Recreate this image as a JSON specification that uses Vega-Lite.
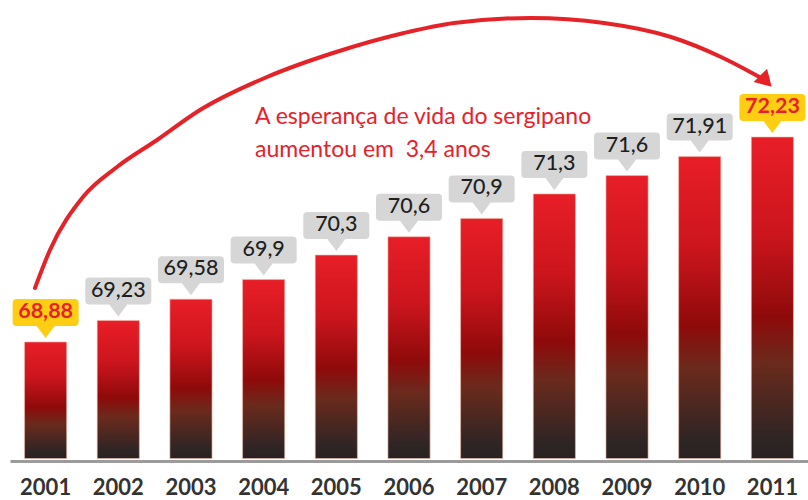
{
  "$schema": "https://vega.github.io/schema/vega-lite/v6.json",
  "width": 798,
  "height": 461,
  "autosize": "none",
  "padding": {"left": 10, "top": 0, "right": 0, "bottom": 39},
  "background": "white",
  "config": {
    "view": {"stroke": null},
    "font": "Lato"
  },
  "datasets": {
    "bars": [
      {"year": "2001", "value": 68.88, "label": "68,88"},
      {"year": "2002", "value": 69.23, "label": "69,23"},
      {"year": "2003", "value": 69.58, "label": "69,58"},
      {"year": "2004", "value": 69.9, "label": "69,9"},
      {"year": "2005", "value": 70.3, "label": "70,3"},
      {"year": "2006", "value": 70.6, "label": "70,6"},
      {"year": "2007", "value": 70.9, "label": "70,9"},
      {"year": "2008", "value": 71.3, "label": "71,3"},
      {"year": "2009", "value": 71.6, "label": "71,6"},
      {"year": "2010", "value": 71.91, "label": "71,91"},
      {"year": "2011", "value": 72.23, "label": "72,23"}
    ],
    "arc": [
      {"t": 2000.854, "v": 69.763},
      {"t": 2001.06, "v": 70.384},
      {"t": 2001.514, "v": 71.25},
      {"t": 2001.982, "v": 71.74},
      {"t": 2002.533, "v": 72.181},
      {"t": 2003.124, "v": 72.671},
      {"t": 2004.046, "v": 73.211},
      {"t": 2004.954, "v": 73.603},
      {"t": 2005.931, "v": 73.93},
      {"t": 2006.619, "v": 74.093},
      {"t": 2007.678, "v": 74.175},
      {"t": 2008.683, "v": 74.093},
      {"t": 2009.605, "v": 73.864},
      {"t": 2010.293, "v": 73.538},
      {"t": 2010.853, "v": 73.19}
    ]
  },
  "resolve": {"scale": {"x": "independent"}},
  "layer": [
    {
      "data": {"name": "bars"},
      "encoding": {
        "x": {
          "field": "year",
          "type": "ordinal",
          "scale": {"paddingInner": 0.42, "paddingOuter": 0.2},
          "axis": {
            "title": null,
            "labelAngle": 0,
            "labelFont": "Lato",
            "labelFontSize": 22,
            "labelFontWeight": "bold",
            "labelColor": "#333333",
            "ticks": false,
            "tickSize": 0,
            "labelBaseline": "alphabetic",
            "labelPadding": 33,
            "domainColor": "#9b9b9b",
            "domainWidth": 3,
            "grid": false
          }
        },
        "y": {
          "field": "value",
          "type": "quantitative",
          "scale": {"domain": [66.935, 74.469], "zero": false, "nice": false},
          "axis": null
        }
      },
      "layer": [
        {
          "mark": {
            "type": "bar",
            "color": {
              "gradient": "linear",
              "x1": 0, "y1": 0, "x2": 0, "y2": 1,
              "stops": [
                {"offset": 0, "color": "#e81e27"},
                {"offset": 0.3, "color": "#cc151d"},
                {"offset": 0.56, "color": "#8e0a0a"},
                {"offset": 0.7, "color": "#6b2a1c"},
                {"offset": 0.94, "color": "#2e2525"},
                {"offset": 1, "color": "#2a2222"}
              ]
            },
            "stroke": "#f3b9a8",
            "strokeWidth": 0.6
          },
          "encoding": {
            "y2": {"datum": 66.975}
          }
        },
        {
          "mark": {
            "type": "point",
            "filled": true,
            "size": 4,
            "opacity": 1,
            "strokeWidth": 0,
            "yOffset": -4,
            "shape": "M-29,-39 H29 Q33,-39 33,-35 V-16 Q33,-12 29,-12 H9 L0,0 L-9,-12 H-29 Q-33,-12 -33,-16 V-35 Q-33,-39 -29,-39 Z"
          },
          "encoding": {
            "fill": {
              "condition": {"test": "datum.year == '2001' || datum.year == '2011'", "value": "#ffcd11"},
              "value": "#d6d6d6"
            }
          }
        },
        {
          "transform": [{"filter": "datum.year != '2001' && datum.year != '2011'"}],
          "mark": {"type": "text", "font": "Lato", "fontSize": 21.5, "fontWeight": 500, "color": "#1f1f1f", "baseline": "middle", "yOffset": -30},
          "encoding": {"text": {"field": "label"}}
        },
        {
          "transform": [{"filter": "datum.year == '2001' || datum.year == '2011'"}],
          "mark": {"type": "text", "font": "Lato", "fontSize": 21.5, "fontWeight": "bold", "color": "#e8202a", "baseline": "middle", "yOffset": -30},
          "encoding": {"text": {"field": "label"}}
        }
      ]
    },
    {
      "layer": [
        {
          "data": {"name": "arc"},
          "mark": {"type": "line", "color": "#e52228", "strokeWidth": 4, "interpolate": "monotone", "strokeCap": "round"},
          "encoding": {
            "x": {"field": "t", "type": "quantitative", "scale": {"domain": [2000.51, 2011.49], "nice": false, "zero": false}, "axis": null},
            "y": {"field": "v", "type": "quantitative", "scale": {"domain": [66.935, 74.469], "zero": false, "nice": false}, "axis": null}
          }
        },
        {
          "data": {"values": [{}]},
          "mark": {"type": "point", "filled": true, "size": 4, "opacity": 1, "strokeWidth": 0, "angle": 45, "fill": "#e52228", "shape": "M0,0 L-16,-9.5 L-16,9.5 Z"},
          "encoding": {
            "x": {"datum": 2010.99, "type": "quantitative", "scale": {"domain": [2000.51, 2011.49], "nice": false, "zero": false}, "axis": null},
            "y": {"datum": 73.052, "type": "quantitative", "axis": null}
          }
        },
        {
          "data": {"values": [{}]},
          "mark": {"type": "text", "font": "Lato", "fontSize": 23, "color": "#e8202a", "align": "left", "baseline": "middle", "lineHeight": 33},
          "encoding": {
            "x": {"datum": 2003.881, "type": "quantitative", "scale": {"domain": [2000.51, 2011.49], "nice": false, "zero": false}, "axis": null},
            "y": {"datum": 72.565, "type": "quantitative", "axis": null},
            "text": {"value": ["A esperança de vida do sergipano", "aumentou em\u00a0\u00a03,4 anos"]}
          }
        }
      ]
    }
  ]
}
